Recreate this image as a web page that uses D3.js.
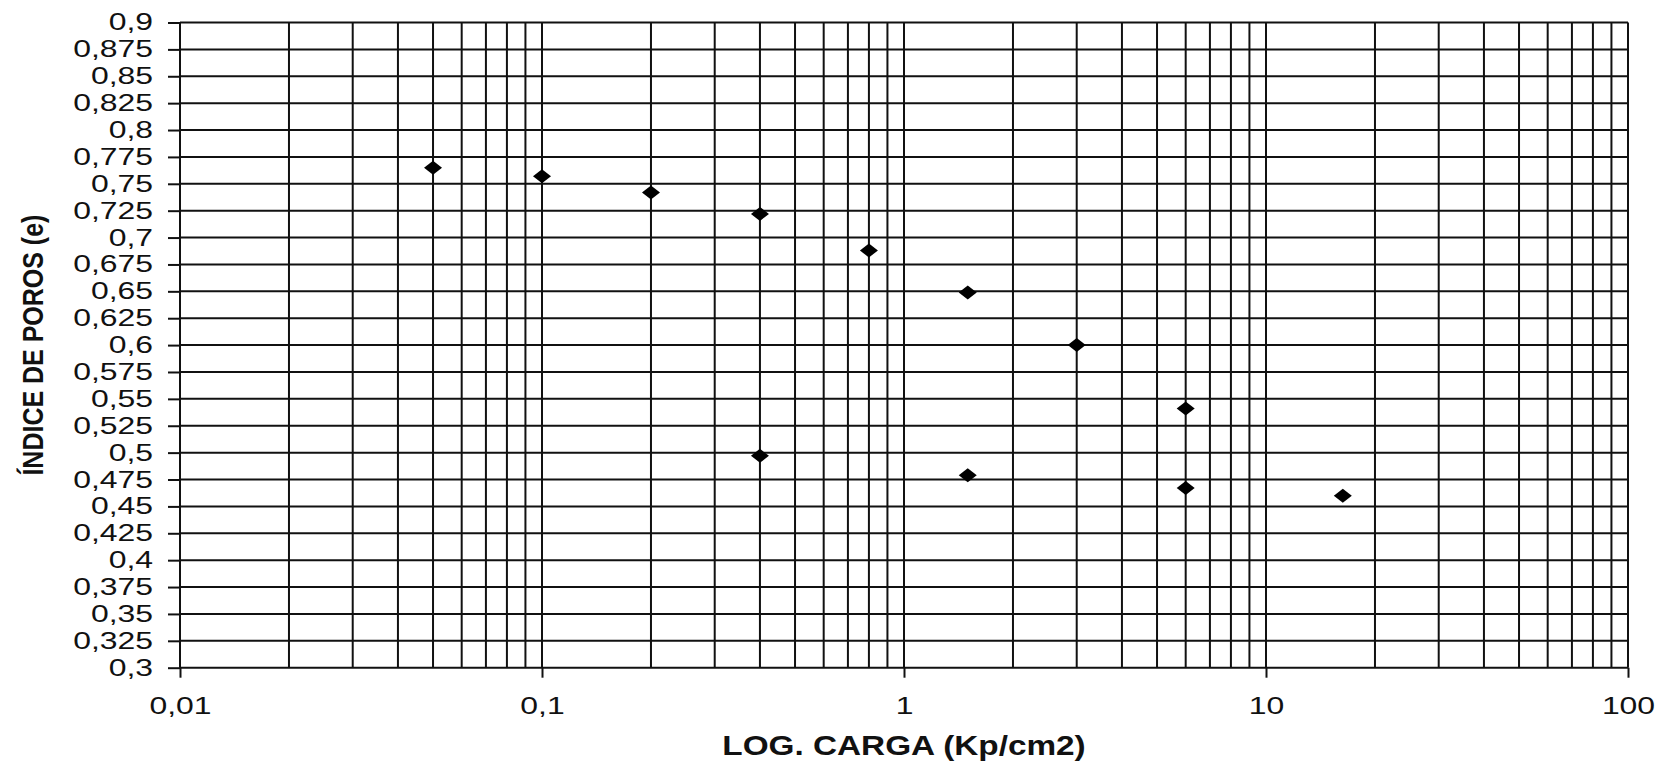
<!DOCTYPE html>
<html>
<head>
<meta charset="utf-8">
<script src="https://cdn.jsdelivr.net/npm/d3@7"></script>
<style>
  html, body { margin: 0; padding: 0; background: #fff; }
  svg { display: block; }
  text { font-family: "Liberation Sans", Arial, sans-serif; fill: #111; }
</style>
</head>
<body>
<svg id="chart" width="1669" height="761"></svg>
<script>
// ---- data ----
const cargaKp = [0.05, 0.1, 0.2, 0.4, 0.8, 1.5, 3, 6, 16.3, 6, 1.5, 0.4];
const indicePoros = [0.765, 0.757, 0.742, 0.722, 0.688, 0.649, 0.600, 0.541, 0.460, 0.467, 0.479, 0.497];
const xMajorTicks = [0.01, 0.1, 1, 10, 100];
const xMajorLabels = ["0,01", "0,1", "1", "10", "100"];
const yTicks = d3.range(0, 25).map(i => +(0.3 + i * 0.025).toFixed(3));
const xTitle = "LOG. CARGA (Kp/cm2)";
const yTitle = "ÍNDICE DE POROS (e)";

// ---- layout ----
const mLeft = 180, mRight = 1628, mTop = 22.5, mBottom = 667.7;
const svg = d3.select("#chart");
const x = d3.scaleLog().domain([0.01, 100]).range([mLeft, mRight]);
const y = d3.scaleLinear().domain([0.3, 0.9]).range([mBottom, mTop]);

const gridColor = "#111";
const gridW = 2;

// minor + major vertical gridlines (1..9 per decade)
const xGrid = [];
for (let d = -2; d < 2; d++) for (let k = 1; k <= 9; k++) xGrid.push(k * Math.pow(10, d));
xGrid.push(100);

const grid = svg.append("g");
grid.selectAll("line.v").data(xGrid).join("line").attr("class", "v")
  .attr("x1", d => x(d)).attr("x2", d => x(d))
  .attr("y1", mTop).attr("y2", mBottom)
  .attr("stroke", gridColor).attr("stroke-width", gridW);
grid.selectAll("line.h").data(yTicks).join("line").attr("class", "h")
  .attr("x1", mLeft).attr("x2", mRight)
  .attr("y1", d => y(d)).attr("y2", d => y(d))
  .attr("stroke", gridColor).attr("stroke-width", gridW);

// y axis: outer ticks + labels
const yAxis = d3.axisLeft(y).tickValues(yTicks).tickSize(12).tickPadding(0)
  .tickFormat(d => String(d).replace(".", ","));
const gy = svg.append("g").attr("transform", `translate(${mLeft},0)`).call(yAxis);
gy.select(".domain").remove();
gy.selectAll(".tick line").attr("stroke", gridColor).attr("stroke-width", gridW);
gy.selectAll(".tick text")
  .attr("x", null).attr("dy", null)
  .attr("font-size", 24)
  .attr("fill", "#111")
  .attr("text-anchor", "end")
  .attr("dominant-baseline", "central")
  .attr("transform", "translate(-27,-1) scale(1.33,1)");

// x axis: major ticks + labels
const xAxis = d3.axisBottom(x).tickValues(xMajorTicks).tickSize(10).tickPadding(0)
  .tickFormat((d, i) => xMajorLabels[i]);
const gx = svg.append("g").attr("transform", `translate(0,${mBottom})`).call(xAxis);
gx.select(".domain").remove();
gx.selectAll(".tick line").attr("stroke", gridColor).attr("stroke-width", gridW);
gx.selectAll(".tick text")
  .attr("y", null).attr("dy", null)
  .attr("font-size", 24)
  .attr("fill", "#111")
  .attr("text-anchor", "middle")
  .attr("transform", `translate(0,${714 - mBottom}) scale(1.33,1)`);

// markers (diamonds)
const pts = cargaKp.map((c, i) => [c, indicePoros[i]]);
svg.append("g").selectAll("path").data(pts).join("path")
  .attr("d", "M-9,0L0,-7L9,0L0,7Z")
  .attr("transform", d => `translate(${x(d[0])},${y(d[1])})`)
  .attr("fill", "#000");

// titles
svg.append("text")
  .attr("text-anchor", "middle")
  .attr("font-weight", "bold")
  .attr("font-size", 28)
  .attr("transform", `translate(${(mLeft + mRight) / 2},755) scale(1.19,1)`)
  .text(xTitle);

svg.append("text")
  .attr("text-anchor", "middle")
  .attr("font-weight", "bold")
  .attr("font-size", 25)
  .attr("transform", `translate(43,${(mTop + mBottom) / 2}) rotate(-90) scale(1,1.17)`)
  .text(yTitle);
</script>
</body>
</html>
